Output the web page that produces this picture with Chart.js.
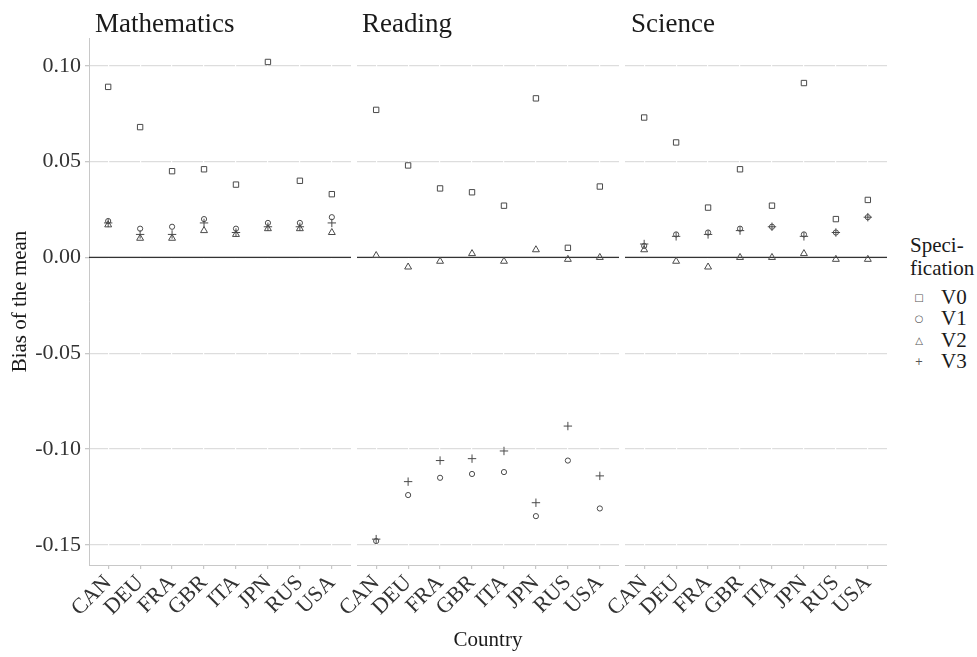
<!DOCTYPE html>
<html>
<head>
<meta charset="utf-8">
<script src="https://cdn.jsdelivr.net/npm/chart.js@4.4.0/dist/chart.umd.min.js"></script>
<style>
  body { margin: 0; background: #fff; font-family: "Liberation Serif", "Times New Roman", serif; }
  #wrap { position: relative; width: 977px; height: 657px; overflow: hidden; }
  canvas { position: absolute; top: 0; }
  .strip { position: absolute; top: 8px; font-size: 27px; line-height: 30px; color: #1a1a1a; }
  .leg { position: absolute; font-size: 21px; line-height: 23px; color: #1a1a1a; }
  .sym { position: absolute; font-family: "DejaVu Sans", sans-serif; font-size: 10px; line-height: 12px; color: #555; width: 14px; text-align: center; }
</style>
</head>
<body>
<div id="wrap">
  <canvas id="c1" width="351" height="657" style="left:0px"></canvas>
  <canvas id="c2" width="319" height="657" style="left:300px"></canvas>
  <canvas id="c3" width="319" height="657" style="left:568px"></canvas>
  <div class="strip" style="left:95px">Mathematics</div>
  <div class="strip" style="left:362px">Reading</div>
  <div class="strip" style="left:631px">Science</div>
  <div class="leg" style="left:910px;top:234px">Speci-<br>fication</div>
  <div id="legend"></div>
</div>
<script>
// categories and tick labels
const countries = ["CAN", "DEU", "FRA", "GBR", "ITA", "JPN", "RUS", "USA"];
const yTicks = [-0.15, -0.10, -0.05, 0.00, 0.05, 0.10];
const specs = ["V0", "V1", "V2", "V3"];

// Mathematics
const mathV0 = [0.089, 0.068, 0.045, 0.046, 0.038, 0.102, 0.040, 0.033];
const mathV1 = [0.019, 0.015, 0.016, 0.020, 0.015, 0.018, 0.018, 0.021];
const mathV2 = [0.017, 0.010, 0.010, 0.014, 0.012, 0.015, 0.015, 0.013];
const mathV3 = [0.018, 0.012, 0.012, 0.018, 0.013, 0.016, 0.016, 0.018];

// Reading
const readV0 = [0.077, 0.048, 0.036, 0.034, 0.027, 0.083, 0.005, 0.037];
const readV1 = [-0.148, -0.124, -0.115, -0.113, -0.112, -0.135, -0.106, -0.131];
const readV2 = [0.001, -0.005, -0.002, 0.002, -0.002, 0.004, -0.001, 0.000];
const readV3 = [-0.147, -0.117, -0.106, -0.105, -0.101, -0.128, -0.088, -0.114];

// Science
const sciV0 = [0.073, 0.060, 0.026, 0.046, 0.027, 0.091, 0.020, 0.030];
const sciV1 = [0.006, 0.012, 0.013, 0.015, 0.016, 0.012, 0.013, 0.021];
const sciV2 = [0.004, -0.002, -0.005, 0.000, 0.000, 0.002, -0.001, -0.001];
const sciV3 = [0.007, 0.011, 0.012, 0.014, 0.016, 0.011, 0.013, 0.021];

const shapes = ["rect", "circle", "triangle", "cross"];
const radii = [3.8, 2.6, 4, 4.2];
const symbols = ["\u25A1", "\u25CB", "\u25B3", "+"];

const serif = "'Liberation Serif', 'Times New Roman', serif";
const textColor = "#333";
const gridColor = "#dddddd";
const axisColor = "#c8c8c8";

// black line at zero
const zeroLine = {
  id: "zeroLine",
  beforeDatasetsDraw(chart) {
    const y = chart.scales.y.getPixelForValue(0);
    const ctx = chart.ctx;
    ctx.save();
    ctx.strokeStyle = "#333";
    ctx.lineWidth = 1.4;
    ctx.beginPath();
    ctx.moveTo(chart.chartArea.left, y);
    ctx.lineTo(chart.chartArea.right, y);
    ctx.stroke();
    ctx.restore();
  }
};

function makePanel(id, seriesList, first, padLeft, xTitle) {
  const datasets = seriesList.map((vals, s) => ({
    label: specs[s],
    data: vals.map((v, i) => ({ x: i + 1, y: v })),
    pointStyle: shapes[s],
    pointRadius: radii[s],
    pointBorderColor: "#4a4a4a",
    pointBackgroundColor: "rgba(0,0,0,0)",
    pointBorderWidth: 1,
    showLine: false
  }));

  return new Chart(document.getElementById(id).getContext("2d"), {
    type: "scatter",
    data: { datasets: datasets },
    options: {
      responsive: false,
      animation: false,
      layout: { autoPadding: false, padding: { top: 38, left: padLeft, right: 0, bottom: 0 } },
      plugins: { legend: { display: false }, tooltip: { enabled: false } },
      scales: {
        x: {
          type: "linear",
          min: 0.4,
          max: 8.6,
          afterBuildTicks: (scale) => { scale.ticks = countries.map((c, i) => ({ value: i + 1 })); },
          afterFit: (scale) => {
            scale.height = 92;
            scale.paddingLeft = 0;
            scale.paddingRight = 0;
          },
          ticks: {
            autoSkip: false,
            minRotation: 45,
            maxRotation: 45,
            padding: 1,
            color: textColor,
            font: { family: serif, size: 22 },
            callback: (v, i) => countries[i]
          },
          grid: { color: "#ffffff", lineWidth: 1.2, tickColor: axisColor, tickLength: 4, z: 0 },
          border: { display: true, color: axisColor, width: 1 },
          title: {
            display: !!xTitle,
            text: xTitle || "",
            color: "#1a1a1a",
            font: { family: serif, size: 21 },
            padding: { top: 0, bottom: 4 }
          }
        },
        y: {
          min: -0.1605,
          max: 0.1145,
          afterBuildTicks: (scale) => { scale.ticks = yTicks.map((v) => ({ value: v })); },
          afterFit: (scale) => {
            scale.width = first ? 89 : 0;
            scale.paddingTop = 0;
            scale.paddingBottom = 0;
          },
          ticks: {
            display: first,
            padding: 4,
            color: textColor,
            font: { family: serif, size: 22 },
            callback: (v) => v.toFixed(2)
          },
          grid: { color: gridColor, lineWidth: 1.3, tickColor: axisColor, tickLength: 4, drawTicks: first, z: -1 },
          border: { display: first, color: axisColor, width: 1 },
          title: {
            display: first,
            text: "Bias of the mean",
            color: "#1a1a1a",
            font: { family: serif, size: 21 },
            padding: { top: 8, bottom: 0 }
          }
        }
      }
    },
    plugins: [zeroLine]
  });
}

makePanel("c1", [mathV0, mathV1, mathV2, mathV3], true, 0, null);
makePanel("c2", [readV0, readV1, readV2, readV3], false, 57, "Country");
makePanel("c3", [sciV0, sciV1, sciV2, sciV3], false, 57, null);

// legend
const legend = document.getElementById("legend");
specs.forEach((name, i) => {
  const mid = 298 + i * 21.3;
  const sym = document.createElement("div");
  sym.className = "sym";
  sym.style.left = "912px";
  sym.style.top = (mid - 6) + "px";
  sym.textContent = symbols[i];
  legend.appendChild(sym);
  const lab = document.createElement("div");
  lab.className = "leg";
  lab.style.left = "941px";
  lab.style.top = (mid - 12) + "px";
  lab.textContent = name;
  legend.appendChild(lab);
});
</script>
</body>
</html>
